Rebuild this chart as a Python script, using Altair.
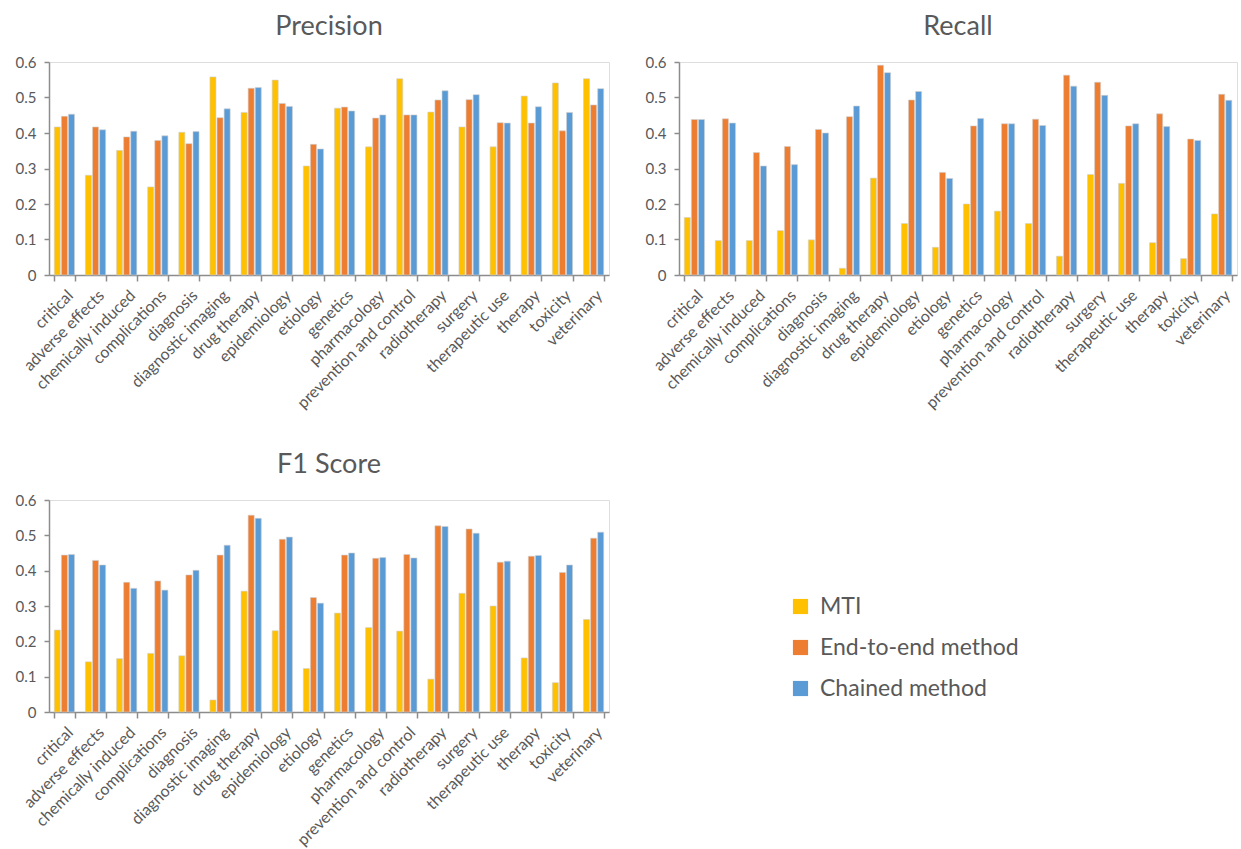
import altair as alt
import pandas as pd

categories = ["critical", "adverse effects", "chemically induced", "complications", "diagnosis",
              "diagnostic imaging", "drug therapy", "epidemiology", "etiology", "genetics",
              "pharmacology", "prevention and control", "radiotherapy", "surgery",
              "therapeutic use", "therapy", "toxicity", "veterinary"]
series = ["MTI", "End-to-end method", "Chained method"]
colors = ["#FFC000", "#ED7D31", "#5B9BD5"]

precision_mti = [0.417, 0.281, 0.351, 0.248, 0.402, 0.558, 0.458, 0.549, 0.307, 0.470, 0.361, 0.553, 0.459, 0.417, 0.361, 0.504, 0.541, 0.553]
precision_e2e = [0.447, 0.417, 0.389, 0.379, 0.370, 0.443, 0.526, 0.483, 0.368, 0.473, 0.442, 0.451, 0.493, 0.494, 0.429, 0.428, 0.406, 0.479]
precision_chn = [0.453, 0.409, 0.405, 0.392, 0.404, 0.468, 0.528, 0.475, 0.355, 0.462, 0.451, 0.451, 0.519, 0.508, 0.428, 0.474, 0.458, 0.525]

recall_mti = [0.162, 0.097, 0.097, 0.125, 0.099, 0.019, 0.273, 0.145, 0.078, 0.200, 0.180, 0.145, 0.053, 0.283, 0.258, 0.091, 0.046, 0.172]
recall_e2e = [0.438, 0.440, 0.345, 0.362, 0.410, 0.446, 0.591, 0.493, 0.289, 0.420, 0.426, 0.439, 0.563, 0.543, 0.420, 0.454, 0.383, 0.509]
recall_chn = [0.438, 0.428, 0.307, 0.311, 0.400, 0.476, 0.570, 0.517, 0.272, 0.441, 0.426, 0.421, 0.532, 0.506, 0.426, 0.418, 0.379, 0.492]

f1_mti = [0.232, 0.142, 0.151, 0.166, 0.159, 0.034, 0.342, 0.230, 0.123, 0.280, 0.239, 0.229, 0.093, 0.336, 0.300, 0.153, 0.083, 0.262]
f1_e2e = [0.444, 0.429, 0.367, 0.371, 0.388, 0.444, 0.557, 0.489, 0.324, 0.444, 0.435, 0.446, 0.527, 0.518, 0.424, 0.441, 0.395, 0.492]
f1_chn = [0.446, 0.416, 0.350, 0.345, 0.401, 0.472, 0.548, 0.495, 0.308, 0.450, 0.437, 0.436, 0.525, 0.506, 0.427, 0.443, 0.416, 0.509]

metrics = {
    "Precision": [precision_mti, precision_e2e, precision_chn],
    "Recall": [recall_mti, recall_e2e, recall_chn],
    "F1 Score": [f1_mti, f1_e2e, f1_chn],
}

rows = []
for m, lists in metrics.items():
    for s, vals in zip(series, lists):
        for c, v in zip(categories, vals):
            rows.append({"metric": m, "category": c, "series": s, "value": v})
df = pd.DataFrame(rows)

FONT = "Lato"
GREY = "#595959"
AXIS = "#8c8c8c"

color_scale = alt.Scale(domain=series, range=colors)
legend = alt.Legend(title=None, orient="none", legendX=740, legendY=533, padding=0,
                    labelFontSize=23, labelColor=GREY, labelFont=FONT, labelLimit=400,
                    symbolType="square", symbolSize=230, symbolStrokeWidth=0,
                    rowPadding=17, labelOffset=8)


def panel(metric, w=560, h=213):
    return alt.Chart(df[df.metric == metric]).mark_bar(
        stroke="#d0d0d0", strokeWidth=0.6
    ).encode(
        x=alt.X("category:N", sort=categories, title=None,
                scale=alt.Scale(paddingInner=0.35, paddingOuter=0.17),
                axis=alt.Axis(labelAngle=-45, labelFontSize=16, labelColor=GREY, labelFont=FONT,
                              tickBand="extent", tickSize=6, tickColor=AXIS, domainColor=AXIS,
                              domainWidth=1.5, tickWidth=1.5, labelPadding=6)),
        xOffset=alt.XOffset("series:N", sort=series, scale=alt.Scale(paddingInner=0.15)),
        y=alt.Y("value:Q", title=None,
                scale=alt.Scale(domain=[0, 0.6], nice=False),
                axis=alt.Axis(values=[0, 0.1, 0.2, 0.3, 0.4, 0.5, 0.6], format=".1~f",
                              grid=False, labelFontSize=15, labelColor=GREY, labelFont=FONT,
                              tickSize=5, tickColor=AXIS, domainColor=AXIS,
                              domainWidth=1.5, tickWidth=1.5, labelPadding=8)),
        color=alt.Color("series:N", sort=series, scale=color_scale, legend=legend),
    ).properties(
        width=w, height=h,
        title=alt.TitleParams(metric, fontSize=27, color=GREY, font=FONT,
                              fontWeight="normal", offset=14),
    )


top = alt.hconcat(panel("Precision"), panel("Recall", w=558), spacing=34)
bottom = alt.hconcat(panel("F1 Score", h=212), spacing=0)

chart = alt.vconcat(top, bottom, spacing=38).resolve_scale(color="shared").properties(
    padding={"left": 14, "top": 12, "right": 0, "bottom": 0}
).configure_view(stroke=None).configure(background="white")

chart.save("out.html", embed_options={"renderer": "svg", "actions": False})
